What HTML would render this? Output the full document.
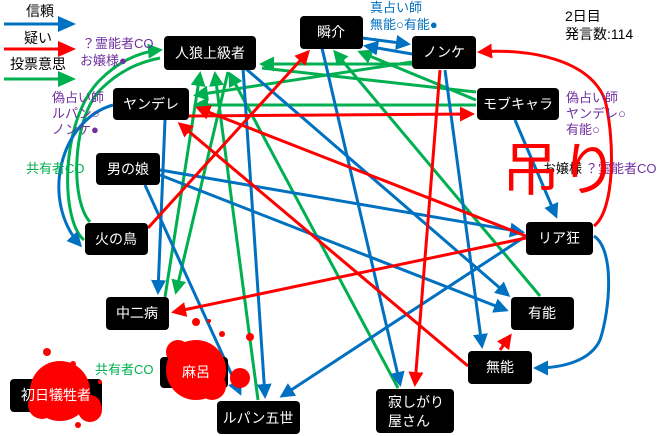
<!DOCTYPE html>
<html><head><meta charset="utf-8"><style>
body{margin:0;background:#fff;width:660px;height:436px;overflow:hidden}
svg{display:block}
text{font-family:"Liberation Sans","Noto Sans CJK JP",sans-serif}
.n{fill:#000}
.t{fill:#fff;font-size:14px}
</style></head><body>
<svg width="660" height="436" viewBox="0 0 660 436" xmlns="http://www.w3.org/2000/svg">
<defs>
<marker id="b" markerWidth="5" markerHeight="5" refX="4" refY="2.5" orient="auto" markerUnits="strokeWidth"><path d="M0,0L5,2.5L0,5z" fill="#0070c0"/></marker>
<marker id="r" markerWidth="5" markerHeight="5" refX="4" refY="2.5" orient="auto" markerUnits="strokeWidth"><path d="M0,0L5,2.5L0,5z" fill="#ff0000"/></marker>
<marker id="g" markerWidth="5" markerHeight="5" refX="4" refY="2.5" orient="auto" markerUnits="strokeWidth"><path d="M0,0L5,2.5L0,5z" fill="#00b050"/></marker>
</defs>
<!-- legend -->
<text x="26" y="16" font-size="14">信頼</text>
<line x1="4" y1="24" x2="60" y2="24" stroke="#0070c0" stroke-width="3"/><path d="M58,16L76,24L58,32z" fill="#0070c0"/>
<text x="24" y="43" font-size="14">疑い</text>
<line x1="4" y1="49" x2="60" y2="49" stroke="#ff0000" stroke-width="3"/><path d="M58,41L76,49L58,57z" fill="#ff0000"/>
<text x="10" y="69" font-size="14">投票意思</text>
<line x1="4" y1="79" x2="60" y2="79" stroke="#00b050" stroke-width="3"/><path d="M58,71L76,79L58,87z" fill="#00b050"/>

<g fill="none" stroke-width="3">
<!-- green -->
<path d="M84,240 C60,220 60,120 100,80 C120,60 140,52 160,50" stroke="#00b050" marker-end="url(#g)"/>
<path d="M90,222 C70,200 72,120 100,90 C120,70 140,62 160,58" stroke="#00b050"/>
<line x1="412" y1="64" x2="262" y2="64" stroke="#00b050" marker-end="url(#g)"/>
<line x1="476" y1="92" x2="262" y2="68" stroke="#00b050"/>
<line x1="476" y1="100" x2="360" y2="52" stroke="#00b050" marker-end="url(#g)"/>
<line x1="476" y1="105" x2="196" y2="105" stroke="#00b050" marker-end="url(#g)"/>
<line x1="412" y1="62" x2="196" y2="95" stroke="#00b050" marker-end="url(#g)"/>
<line x1="540" y1="296" x2="335" y2="52" stroke="#00b050" marker-end="url(#g)"/>
<line x1="165" y1="297" x2="200" y2="74" stroke="#00b050" marker-end="url(#g)"/>
<line x1="228" y1="72" x2="176" y2="292" stroke="#00b050" marker-end="url(#g)"/>
<line x1="398" y1="388" x2="230" y2="74" stroke="#00b050" marker-end="url(#g)"/>
<line x1="258" y1="400" x2="215" y2="74" stroke="#00b050" marker-end="url(#g)"/>
<!-- blue -->
<path d="M113,105 C60,120 40,200 80,245" stroke="#0070c0" marker-end="url(#b)"/>
<line x1="362" y1="38" x2="408" y2="44" stroke="#0070c0" marker-end="url(#b)"/>
<line x1="412" y1="54" x2="366" y2="46" stroke="#0070c0" marker-end="url(#b)"/>
<line x1="160" y1="170" x2="522" y2="232" stroke="#0070c0" marker-end="url(#b)"/>
<line x1="160" y1="175" x2="506" y2="310" stroke="#0070c0" marker-end="url(#b)"/>
<line x1="145" y1="185" x2="240" y2="393" stroke="#0070c0" marker-end="url(#b)"/>
<line x1="165" y1="120" x2="158" y2="292" stroke="#0070c0" marker-end="url(#b)"/>
<line x1="243" y1="68" x2="265" y2="396" stroke="#0070c0" marker-end="url(#b)"/>
<line x1="245" y1="68" x2="508" y2="295" stroke="#0070c0" marker-end="url(#b)"/>
<line x1="526" y1="236" x2="282" y2="396" stroke="#0070c0" marker-end="url(#b)"/>
<line x1="322" y1="48" x2="400" y2="384" stroke="#0070c0" marker-end="url(#b)"/>
<line x1="445" y1="70" x2="482" y2="346" stroke="#0070c0" marker-end="url(#b)"/>
<line x1="515" y1="120" x2="556" y2="216" stroke="#0070c0" marker-end="url(#b)"/>
<path d="M594,236 C615,250 610,310 600,340 C590,362 560,368 536,368" stroke="#0070c0" marker-end="url(#b)"/>
<!-- red -->
<line x1="148" y1="228" x2="308" y2="52" stroke="#ff0000" marker-end="url(#r)"/>
<line x1="526" y1="238" x2="174" y2="312" stroke="#ff0000" marker-end="url(#r)"/>
<line x1="468" y1="366" x2="180" y2="124" stroke="#ff0000" marker-end="url(#r)"/>
<line x1="189" y1="116" x2="472" y2="114" stroke="#ff0000" marker-end="url(#r)"/>
<line x1="526" y1="236" x2="198" y2="108" stroke="#ff0000" marker-end="url(#r)"/>
<line x1="440" y1="70" x2="415" y2="384" stroke="#ff0000" marker-end="url(#r)"/>
<line x1="500" y1="350" x2="510" y2="336" stroke="#ff0000" marker-end="url(#r)"/>
<path d="M594,226 C615,210 615,140 605,100 C590,60 530,48 480,52" stroke="#ff0000" marker-end="url(#r)"/>
</g>

<!-- nodes -->
<rect class="n" x="164" y="36" width="92" height="34" rx="4"/><text class="t" x="210" y="58" text-anchor="middle">人狼上級者</text>
<rect class="n" x="300" y="16" width="63" height="33" rx="4"/><text class="t" x="331" y="37" text-anchor="middle">瞬介</text>
<rect class="n" x="412" y="36" width="64" height="33" rx="4"/><text class="t" x="444" y="57" text-anchor="middle">ノンケ</text>
<rect class="n" x="113" y="88" width="76" height="32" rx="4"/><text class="t" x="151" y="109" text-anchor="middle">ヤンデレ</text>
<rect class="n" x="477" y="88" width="82" height="32" rx="4"/><text class="t" x="518" y="109" text-anchor="middle">モブキャラ</text>
<rect class="n" x="96" y="153" width="64" height="32" rx="4"/><text class="t" x="128" y="174" text-anchor="middle">男の娘</text>
<rect class="n" x="85" y="223" width="63" height="32" rx="4"/><text class="t" x="116" y="244" text-anchor="middle">火の鳥</text>
<rect class="n" x="526" y="222" width="67" height="33" rx="4"/><text class="t" x="559" y="243" text-anchor="middle">リア狂</text>
<rect class="n" x="106" y="297" width="63" height="33" rx="4"/><text class="t" x="137" y="318" text-anchor="middle">中二病</text>
<rect class="n" x="511" y="297" width="63" height="33" rx="4"/><text class="t" x="542" y="318" text-anchor="middle">有能</text>
<rect class="n" x="468" y="351" width="64" height="33" rx="4"/><text class="t" x="500" y="372" text-anchor="middle">無能</text>
<rect class="n" x="160" y="357" width="68" height="31" rx="4"/>
<rect class="n" x="10" y="379" width="92" height="33" rx="4"/>
<rect class="n" x="217" y="401" width="83" height="33" rx="4"/><text class="t" x="258" y="423" text-anchor="middle">ルパン五世</text>
<rect class="n" x="376" y="389" width="78" height="44" rx="4"/><text class="t" x="388" y="407">寂しがり</text><text class="t" x="388" y="426">屋さん</text>

<!-- blood -->
<g fill="#ff0000">
<circle cx="196" cy="370" r="30"/><circle cx="178" cy="352" r="12"/><circle cx="212" cy="386" r="14"/><circle cx="240" cy="378" r="10"/>
<circle cx="196" cy="322" r="4"/><circle cx="250" cy="337" r="4"/><circle cx="222" cy="334" r="3"/><circle cx="209" cy="321" r="2"/>
<circle cx="60" cy="391" r="30"/><circle cx="42" cy="405" r="14"/><circle cx="90" cy="406" r="11"/><circle cx="90" cy="410" r="12"/>
<circle cx="47" cy="352" r="4"/><circle cx="73" cy="364" r="3"/><circle cx="78" cy="425" r="3"/><circle cx="100" cy="382" r="2"/>
</g>
<text class="t" x="196" y="377" text-anchor="middle">麻呂</text>
<text class="t" x="56" y="400" text-anchor="middle">初日犠牲者</text>

<!-- annotations -->
<g font-size="13" fill="#7030a0">
<text x="82" y="48">？霊能者CO</text><text x="80" y="65">お嬢様●</text>
<text x="52" y="102">偽占い師</text><text x="52" y="118">ルパン○</text><text x="52" y="134">ノンケ●</text>
<text x="566" y="102">偽占い師</text><text x="566" y="118">ヤンデレ○</text><text x="566" y="134">有能○</text>
<text x="585" y="173">？霊能者CO</text>
</g>
<g font-size="13" fill="#0070c0"><text x="370" y="12">真占い師</text><text x="370" y="29">無能○有能●</text></g>
<g font-size="13" fill="#00b050"><text x="26" y="173">共有者CO</text><text x="95" y="374">共有者CO</text></g>
<text x="543" y="173" font-size="13">お嬢様</text>
<text x="502" y="190" font-size="58" fill="#ff0000">吊り</text>
<text x="565" y="21" font-size="14">2日目</text><text x="565" y="39" font-size="14">発言数:114</text>
</svg>
</body></html>
